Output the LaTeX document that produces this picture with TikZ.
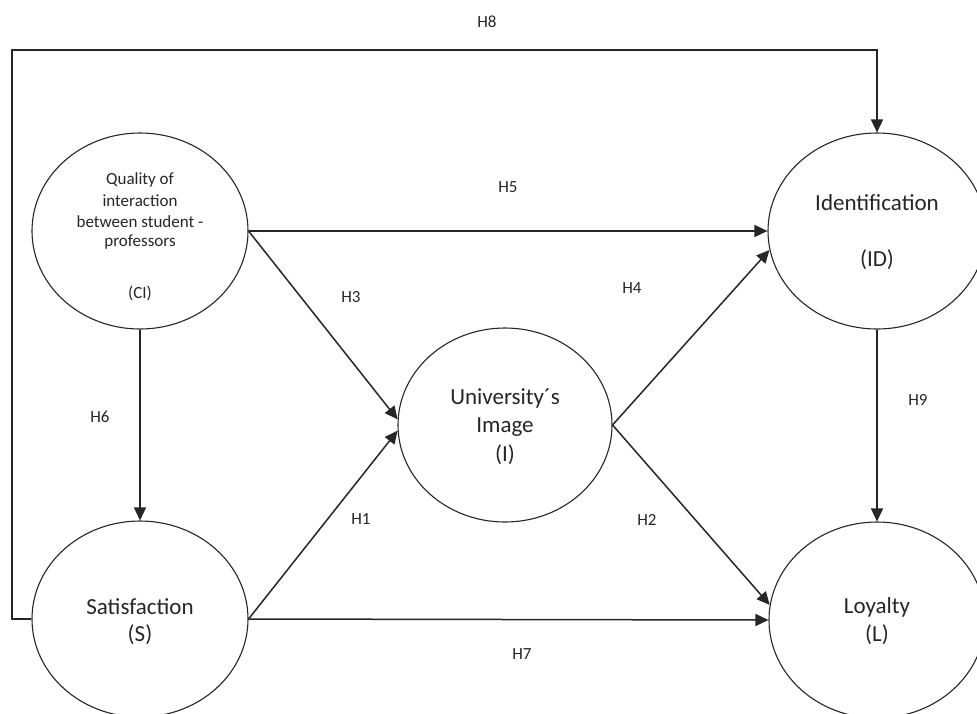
\documentclass[tikz,border=0pt]{standalone}
\usepackage{fontspec}
\setmainfont{Carlito}
\usetikzlibrary{arrows.meta,shapes.geometric}
\begin{document}
\begin{tikzpicture}[x=1pt,y=-1pt,
  construct/.style={ellipse, draw=black!85, line width=1.1pt, inner sep=0pt, fill=white},
  link/.style={draw=black!85, line width=1.5pt, -{Triangle[length=13pt,width=12pt]}},
  bigtext/.style={font=\fontsize{23}{28}\selectfont, text=black!85, inner sep=0pt},
  smalltext/.style={font=\fontsize{17}{21}\selectfont, text=black!85, inner sep=0pt},
  hyp/.style={font=\fontsize{17}{20}\selectfont, text=black!85, inner sep=1pt}]
\useasboundingbox (0,0) rectangle (977,713);

% constructs
\node[construct, minimum width=216pt, minimum height=196pt] (CI) at (140,231) {};
\node[construct, minimum width=216pt, minimum height=196pt] (S)  at (140,619) {};
\node[construct, minimum width=214pt, minimum height=194pt] (I)  at (505,425) {};
\node[construct, minimum width=218pt, minimum height=196pt] (ID) at (877,231) {};
\node[construct, minimum width=216pt, minimum height=196pt] (L)  at (877,620) {};

% construct labels
\node[smalltext] (ci1) at (140,180) {Quality of};
\node[smalltext] (ci2) at (140,201) {interaction};
\node[smalltext] (ci3) at (140,222) {between student -};
\node[smalltext] (ci4) at (140,242) {professors};
\node[smalltext] (ci5) at (140,293) {(CI)};
\node[bigtext] (s1) at (140,607) {Satisfaction};
\node[bigtext] (s2) at (140,635) {(S)};
\node[bigtext] (i1) at (505,398) {University´s};
\node[bigtext] (i2) at (505,427) {Image};
\node[bigtext] (i3) at (505,455) {(I)};
\node[bigtext] (id1) at (877,203) {Identification};
\node[bigtext] (id2) at (877,260) {(ID)};
\node[bigtext] (l1) at (877,607) {Loyalty};
\node[bigtext] (l2) at (877,635) {(L)};

% paths between constructs
\draw[link] (CI.east) -- (ID.west);
\draw[link] (CI.east) -- (I.177);
\draw[link] (S.east) -- (I.183);
\draw[link] (I.east) -- (ID.190);
\draw[link] (I.east) -- (L.172);
\draw[link] (S.east) -- (L.west);
\draw[link] (CI.south) -- (S.north);
\draw[link] (ID.south) -- (L.north);
\coordinate (topleft) at (12,50);
\draw[link] (S.west) -| (topleft) -| (ID.north);

% hypothesis labels
\node[hyp] (h1) at (361,519) {H1};
\node[hyp] (h2) at (647,520) {H2};
\node[hyp] (h3) at (351,297) {H3};
\node[hyp] (h4) at (632,288) {H4};
\node[hyp] (h5) at (508,187) {H5};
\node[hyp] (h6) at (100,417) {H6};
\node[hyp] (h7) at (522,654) {H7};
\node[hyp] (h8) at (487,22) {H8};
\node[hyp] (h9) at (918,400) {H9};
\end{tikzpicture}
\end{document}
